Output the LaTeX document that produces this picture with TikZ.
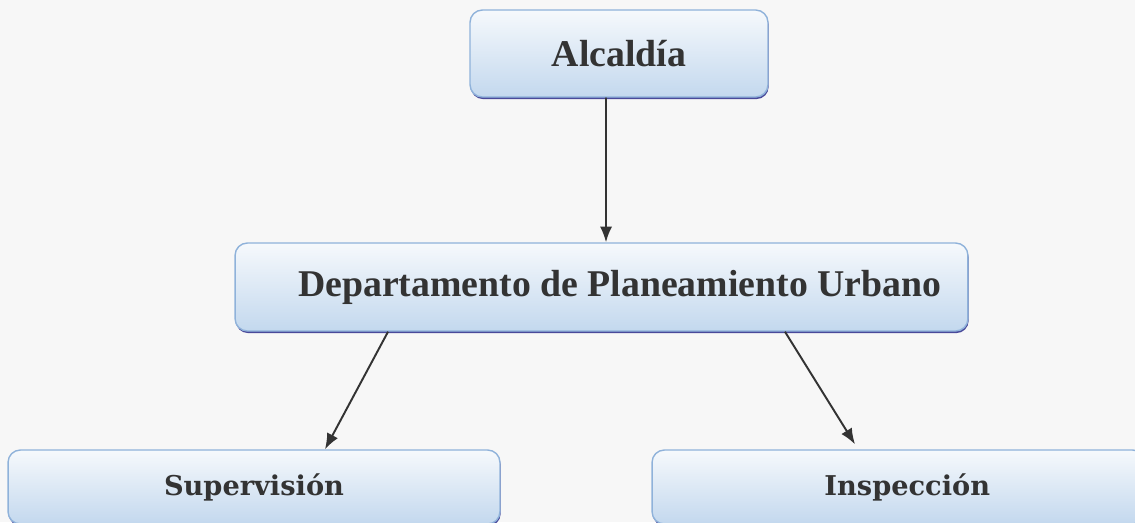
\documentclass[tikz,border=0pt]{standalone}
\usepackage{fontspec}
\setmainfont{Liberation Serif}
\newfontfamily\lowfont{DejaVu Serif}
\usetikzlibrary{shadows}
\definecolor{boxline}{HTML}{8FB2DA}
\definecolor{boxtop}{HTML}{F6F9FC}
\definecolor{boxbot}{HTML}{C3D8EE}
\definecolor{ink}{HTML}{333333}
\tikzset{unit/.style={rounded corners=7pt,draw=boxline,line width=0.8pt,top color=boxtop,bottom color=boxbot,
  drop shadow={shadow xshift=0.4pt,shadow yshift=-1.2pt,fill=blue!45!black,opacity=0.7},text=ink}}
\tikzset{bigunit/.style={unit,font=\bfseries\fontsize{21.5}{25}\selectfont}}
\tikzset{lowunit/.style={unit,font=\lowfont\bfseries\fontsize{15.5}{18}\selectfont}}
\tikzset{link/.style={draw=ink,line width=1.1pt,-{Latex[length=9pt,width=7pt]}}}
\usetikzlibrary{arrows.meta}

\begin{document}
\begin{tikzpicture}[x=0.02cm,y=-0.02cm]
    \useasboundingbox (0,0) rectangle (1135,522);
    \clip (0,0) rectangle (1135,522);
    \fill[gray!6] (0,0) rectangle (1135,522);
    \node[bigunit,minimum width=5.96cm,minimum height=1.74cm] (alc) at (619,53.5) {Alcaldía};
    \node[bigunit,minimum width=14.66cm,minimum height=1.76cm] (dpu) at (601.5,287) {\hspace{0.73cm}Departamento de Planeamiento Urbano};
    \node[lowunit,minimum width=9.84cm,minimum height=1.48cm] (sup) at (254,487) {Supervisión\hspace{0.4cm}};
    \node[lowunit,minimum width=9.86cm,minimum height=1.48cm] (ins) at (898.5,487) {\hspace{0.35cm}Inspección};
    \draw[link] ([xshift=-0.26cm]alc.south) -- ([xshift=0.09cm]dpu.north);
    \draw[link] ([xshift=-4.27cm]dpu.south) -- ([xshift=1.42cm]sup.north);
    \draw[link] ([xshift=3.67cm]dpu.south) -- ([xshift=-0.87cm,yshift=0.1cm]ins.north);
\end{tikzpicture}
\end{document}
